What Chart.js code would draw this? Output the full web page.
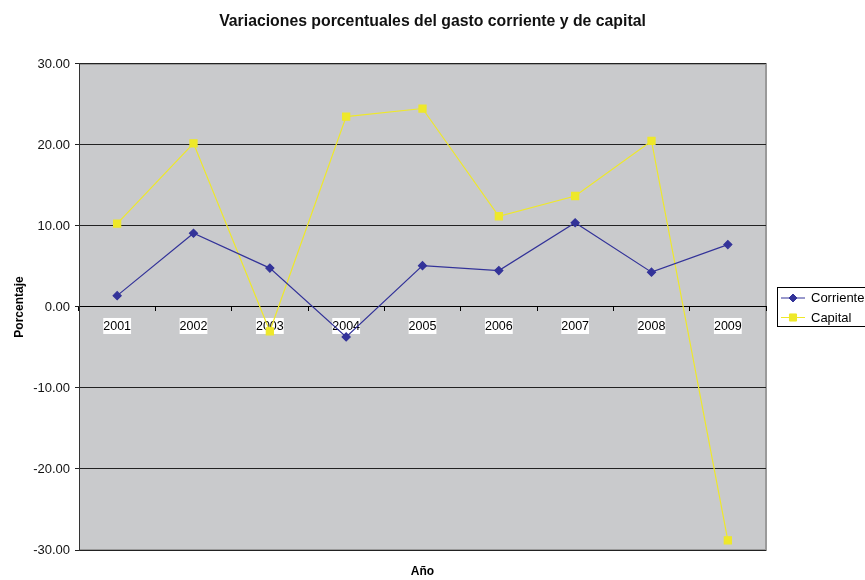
<!DOCTYPE html>
<html>
<head>
<meta charset="utf-8">
<script src="https://cdn.jsdelivr.net/npm/chart.js@4"></script>
<style>
  html, body { margin: 0; padding: 0; background: #fff; }
  #wrap { width: 865px; height: 580px; }
</style>
</head>
<body>
<div id="wrap"><canvas id="grafico"></canvas></div>
<script>
// datos
const anios = ['2001', '2002', '2003', '2004', '2005', '2006', '2007', '2008', '2009'];
const corriente = [1.4, 9.1, 4.8, -3.7, 5.1, 4.5, 10.4, 4.3, 7.7];
const capital = [10.3, 20.2, -3.0, 23.5, 24.5, 11.2, 13.7, 20.5, -28.8];
const ticksY = [-30, -20, -10, 0, 10, 20, 30];

const colorCorriente = '#333399';
const colorCapital = '#EEE82A';
const fuente = '"Liberation Sans", Arial, sans-serif';

Chart.defaults.font.family = fuente;
Chart.defaults.font.size = 12;
Chart.defaults.color = '#000';

// fondo gris y marco del area de trazado
const fondo = {
    id: 'fondo',
    beforeDraw(chart) {
        const { ctx, chartArea: a } = chart;
        ctx.save();
        ctx.fillStyle = '#C9CACC';
        ctx.fillRect(a.left, a.top, a.right - a.left, a.bottom - a.top);
        ctx.strokeStyle = '#9A9A9A';
        ctx.lineWidth = 2;
        ctx.beginPath();
        ctx.moveTo(a.left, a.top);
        ctx.lineTo(a.right, a.top);
        ctx.lineTo(a.right, a.bottom);
        ctx.lineTo(a.left, a.bottom);
        ctx.stroke();
        ctx.restore();
    }
};

// leyenda con linea y marcador, como en Excel
const leyenda = {
    id: 'leyenda',
    afterDraw(chart) {
        const { ctx, chartArea: a } = chart;
        const x = a.right + 11, y = 287, w = 90, h = 40;
        ctx.save();
        ctx.fillStyle = '#fff';
        ctx.fillRect(x, y, w, h);
        ctx.strokeStyle = '#000';
        ctx.lineWidth = 1;
        ctx.strokeRect(x + 0.5, y + 0.5, w - 1, h - 1);
        chart.data.datasets.forEach((ds, i) => {
            const cy = y + 11 + i * 19.5;
            ctx.strokeStyle = ds.borderColor;
            ctx.lineWidth = 1;
            ctx.beginPath();
            ctx.moveTo(x + 4, cy);
            ctx.lineTo(x + 28, cy);
            ctx.stroke();
            ctx.fillStyle = ds.pointBackgroundColor;
            ctx.strokeStyle = ds.pointBorderColor;
            Chart.helpers.drawPoint(ctx, {
                pointStyle: ds.pointStyle, radius: ds.pointRadius, borderWidth: 1
            }, x + 16, cy);
            ctx.fillStyle = '#000';
            ctx.font = '13px ' + fuente;
            ctx.textBaseline = 'middle';
            ctx.fillText(ds.label, x + 34, cy + 0.5);
        });
        ctx.restore();
    }
};

new Chart(document.getElementById('grafico'), {
    type: 'line',
    data: {
        labels: anios,
        datasets: [{
            label: 'Corriente',
            data: corriente,
            borderColor: colorCorriente,
            backgroundColor: colorCorriente,
            pointBackgroundColor: colorCorriente,
            pointBorderColor: colorCorriente,
            borderWidth: 1.2,
            pointStyle: 'rectRot',
            pointRadius: 4,
            pointHoverRadius: 4,
            tension: 0
        }, {
            label: 'Capital',
            data: capital,
            borderColor: colorCapital,
            backgroundColor: colorCapital,
            pointBackgroundColor: colorCapital,
            pointBorderColor: colorCapital,
            borderWidth: 1.2,
            pointStyle: 'rect',
            pointRadius: 5,
            pointHoverRadius: 5,
            tension: 0
        }]
    },
    options: {
        responsive: true,
        maintainAspectRatio: false,
        animation: false,
        devicePixelRatio: 1,
        layout: { padding: 0 },
        plugins: {
            legend: { display: false },
            tooltip: { enabled: false },
            title: {
                display: true,
                text: 'Variaciones porcentuales del gasto corriente y de capital',
                font: { size: 15.8, weight: 'bold' },
                color: '#111',
                padding: { top: 12, bottom: 33 }
            }
        },
        scales: {
            x: {
                position: { y: 0 },
                offset: true,
                z: 1,
                grid: {
                    offset: true,
                    drawOnChartArea: false,
                    drawTicks: true,
                    tickLength: 4,
                    color: '#000'
                },
                border: { display: true, color: '#000', width: 1 },
                ticks: {
                    padding: 8,
                    color: '#000',
                    font: { size: 12.5 },
                    maxRotation: 0,
                    showLabelBackdrop: true,
                    backdropColor: '#fff',
                    backdropPadding: { top: 1, bottom: 0, left: 0, right: 0 }
                }
            },
            x2: {
                type: 'category',
                labels: anios,
                position: 'bottom',
                grid: { display: false },
                border: { display: false },
                ticks: { display: false },
                title: {
                    display: true,
                    text: 'Año',
                    font: { size: 12, weight: 'bold' },
                    color: '#000',
                    padding: { top: 0, bottom: 1 }
                },
                afterFit(scale) { scale.height = 30; }
            },
            y: {
                min: -30,
                max: 30,
                afterBuildTicks(scale) {
                    scale.ticks = ticksY.map(v => ({ value: v }));
                },
                grid: {
                    color: '#222',
                    lineWidth: 1,
                    drawTicks: true,
                    tickLength: 4
                },
                border: { display: true, color: '#333', width: 1 },
                ticks: {
                    padding: 5,
                    color: '#111',
                    font: { size: 13 },
                    callback: v => Number(v).toFixed(2)
                },
                title: {
                    display: true,
                    text: 'Porcentaje',
                    font: { size: 12, weight: 'bold' },
                    color: '#000',
                    padding: { top: 12, bottom: 0 }
                },
                afterFit(scale) { scale.width = 79; }
            },
            // eje vacio: reserva el hueco de la leyenda a la derecha
            margen: {
                type: 'linear',
                position: 'right',
                grid: { display: false },
                border: { display: false },
                ticks: { display: false },
                afterFit(scale) { scale.width = 99; }
            }
        }
    },
    plugins: [fondo, leyenda]
});
</script>
</body>
</html>
